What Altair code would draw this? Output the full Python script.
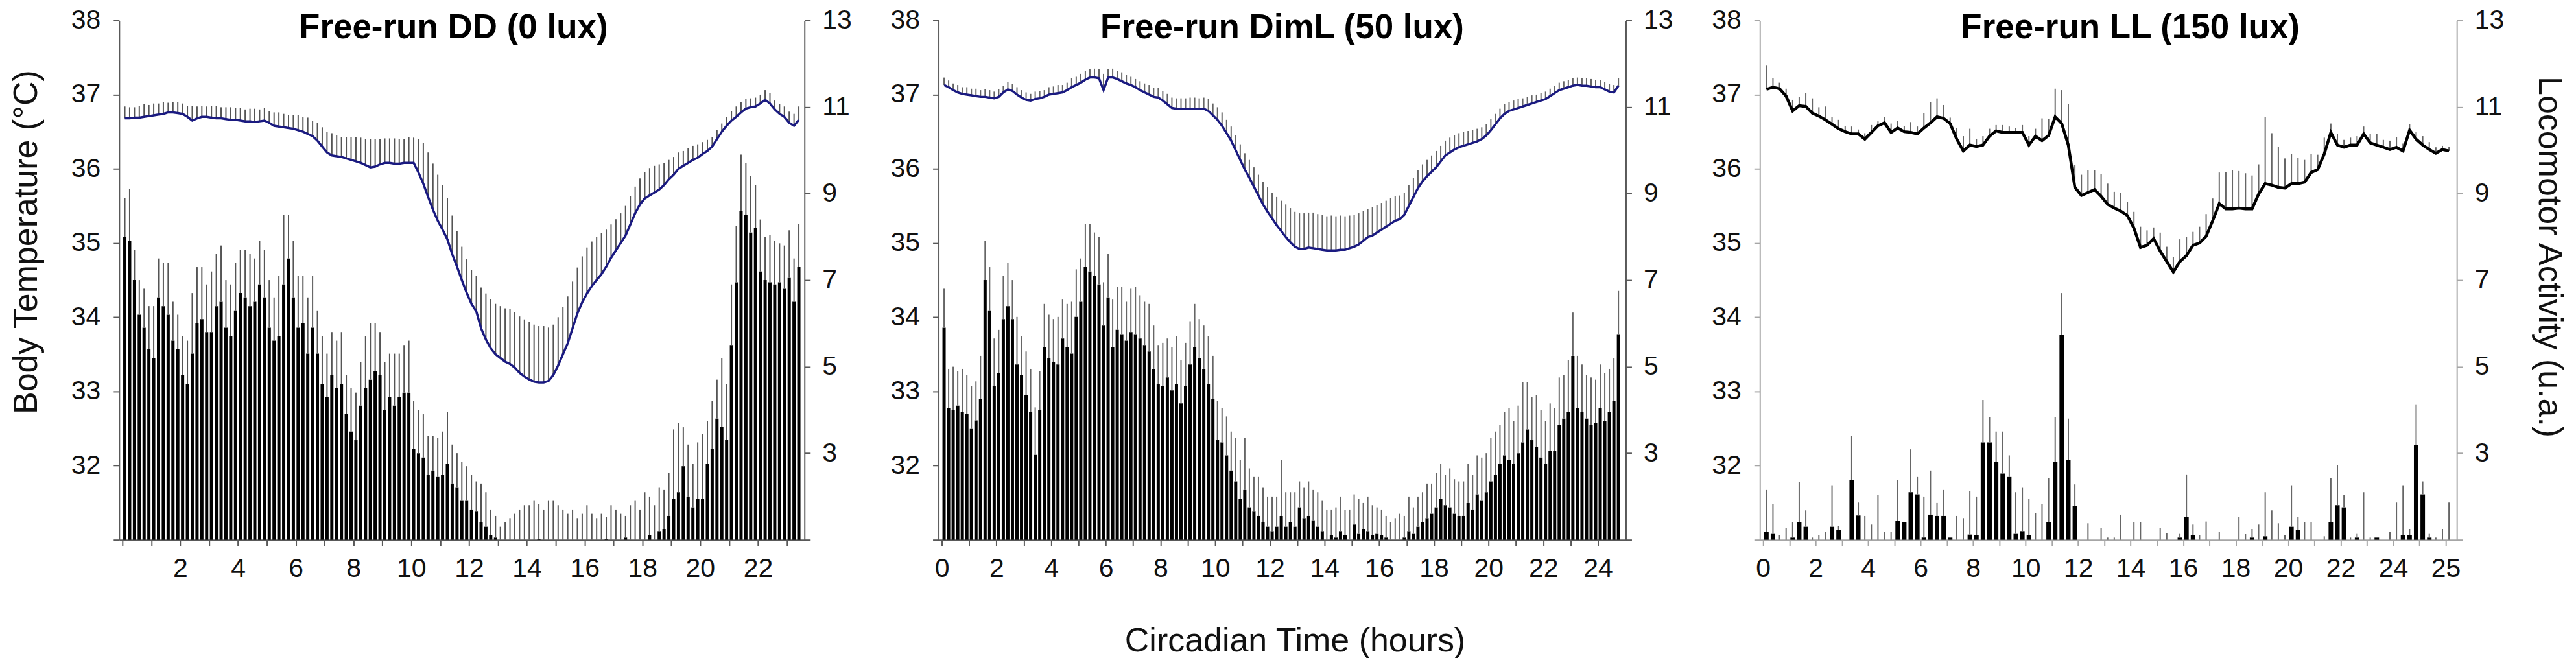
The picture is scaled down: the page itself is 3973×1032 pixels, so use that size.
import altair as alt
import pandas as pd

FONT = "Liberation Sans"

# ---------------- Free-run DD (0 lux): 10-min bins ----------------
dd_step = 1 / 6
dd_temp = [
    36.68, 36.68, 36.69, 36.69, 36.70, 36.71,
    36.72, 36.73, 36.74, 36.76, 36.76, 36.75,
    36.74, 36.70, 36.65, 36.68, 36.70, 36.70,
    36.69, 36.68, 36.68, 36.67, 36.66, 36.66,
    36.65, 36.64, 36.64, 36.63, 36.64, 36.65,
    36.62, 36.58, 36.57, 36.56, 36.55, 36.54,
    36.52, 36.50, 36.47, 36.44, 36.38, 36.30,
    36.22, 36.18, 36.17, 36.16, 36.14, 36.12,
    36.10, 36.08, 36.05, 36.02, 36.03, 36.06,
    36.08, 36.08, 36.07, 36.07, 36.08, 36.08,
    36.08, 35.95, 35.80, 35.62, 35.45, 35.30,
    35.18, 35.05, 34.85, 34.68, 34.50, 34.33,
    34.18, 34.08, 33.85, 33.70, 33.58, 33.50,
    33.45, 33.40, 33.37, 33.32, 33.25, 33.20,
    33.16, 33.13, 33.12, 33.12, 33.14, 33.22,
    33.35, 33.50, 33.65, 33.85, 34.05, 34.20,
    34.32, 34.42, 34.50, 34.58, 34.68, 34.80,
    34.90, 35.00, 35.10, 35.25, 35.40, 35.52,
    35.60, 35.64, 35.68, 35.72, 35.78, 35.86,
    35.92, 36.00, 36.04, 36.08, 36.12, 36.15,
    36.20, 36.24, 36.30, 36.40, 36.50, 36.58,
    36.65, 36.70, 36.76, 36.81, 36.83, 36.84,
    36.88, 36.93, 36.88, 36.80, 36.74, 36.70,
    36.62, 36.58, 36.66,
]
dd_temp_err = [
    0.16, 0.15, 0.14, 0.16, 0.17, 0.15,
    0.16, 0.15, 0.16, 0.13, 0.14, 0.15,
    0.14, 0.15, 0.20, 0.16, 0.15, 0.14,
    0.16, 0.17, 0.15, 0.16, 0.17, 0.16,
    0.17, 0.16, 0.17, 0.18, 0.16, 0.17,
    0.16, 0.18, 0.19, 0.18, 0.17, 0.18,
    0.20, 0.20, 0.22, 0.21, 0.24, 0.26,
    0.28, 0.30, 0.28, 0.27, 0.29, 0.31,
    0.33, 0.34, 0.35, 0.38, 0.37, 0.34,
    0.33, 0.33, 0.34, 0.33, 0.32, 0.35,
    0.34, 0.45, 0.55, 0.60, 0.62, 0.62,
    0.60, 0.56, 0.52, 0.48, 0.45, 0.45,
    0.46, 0.48, 0.55, 0.62, 0.66, 0.68,
    0.70, 0.72, 0.74, 0.75, 0.76, 0.77,
    0.78, 0.77, 0.76, 0.76, 0.72, 0.68,
    0.65, 0.64, 0.63, 0.63, 0.62, 0.62,
    0.62, 0.60, 0.58, 0.55, 0.50, 0.45,
    0.42, 0.40, 0.40, 0.38, 0.36, 0.35,
    0.36, 0.37, 0.36, 0.34, 0.30, 0.26,
    0.24, 0.22, 0.20, 0.20, 0.19, 0.18,
    0.16, 0.15, 0.13, 0.12, 0.11, 0.12,
    0.13, 0.14, 0.14, 0.13, 0.12, 0.12,
    0.12, 0.13, 0.14, 0.12, 0.13, 0.14,
    0.15, 0.16, 0.18,
]
dd_act = [
    8.0, 7.9, 7.0, 6.2, 5.9, 5.4,
    5.2, 6.6, 6.4, 6.2, 5.6, 5.4,
    4.8, 4.6, 5.3, 6.0, 6.1, 5.8,
    5.8, 6.4, 6.5, 5.9, 5.7, 6.3,
    6.7, 6.6, 6.4, 6.5, 6.9, 6.6,
    5.9, 5.6, 5.7, 6.9, 7.5, 6.6,
    5.9, 6.0, 5.3, 5.9, 5.3, 4.6,
    4.3, 4.8, 4.5, 4.6, 3.9, 3.5,
    3.3, 4.1, 4.5, 4.7, 4.9, 4.8,
    4.0, 4.3, 4.1, 4.3, 4.4, 4.4,
    3.1, 3.0, 2.9, 2.5, 2.6, 2.45,
    2.5, 2.75, 2.3, 2.2, 1.9, 1.9,
    1.7, 1.65, 1.4, 1.3, 1.1, 1.05,
    1.0, 1.0, 1.0, 1.0, 1.0, 1.0,
    1.0, 1.0, 1.02, 1.0, 1.0, 1.0,
    1.0, 1.0, 1.0, 1.0, 1.0, 1.0,
    1.0, 1.0, 1.0, 1.0, 1.02, 1.0,
    1.0, 1.0, 1.05, 1.0, 1.0, 1.0,
    1.0, 1.1, 1.0, 1.2, 1.25, 1.55,
    1.95, 2.1, 2.7, 2.0, 1.75, 1.95,
    1.95, 2.75, 3.1, 3.8, 3.6, 3.3,
    5.5, 6.95, 8.6, 8.5, 8.1, 8.2,
    7.2, 7.0, 6.95, 6.9, 6.95, 6.8,
    7.05, 6.5, 7.3,
]
dd_act_err = [
    0.9, 1.2, 0.7, 0.8, 0.9, 1.0,
    1.2, 0.9, 1.0, 1.2, 0.9, 0.8,
    0.9, 1.0, 1.4, 1.3, 1.2, 1.1,
    1.4, 1.2, 1.3, 1.1, 1.2, 1.1,
    1.0, 1.1, 1.2, 1.0, 1.0, 1.1,
    1.1, 1.0, 1.4, 1.6, 1.0, 1.3,
    1.2, 1.1, 1.3, 1.2, 1.0, 1.1,
    1.0, 1.0, 1.1, 1.2, 0.9, 1.0,
    1.1, 1.0, 1.2, 1.3, 1.1, 1.0,
    1.1, 1.0, 1.2, 1.0, 1.1, 1.2,
    1.1, 1.0, 1.0, 0.9, 0.8, 0.9,
    1.0, 1.2, 0.9, 0.8, 0.9, 0.8,
    0.8, 0.7, 0.9, 0.8, 0.6, 0.5,
    0.3, 0.4, 0.5, 0.6, 0.7, 0.8,
    0.8, 0.9, 0.8, 0.7, 0.9, 0.9,
    0.8, 0.7, 0.6, 0.7, 0.5, 0.6,
    0.8, 0.6, 0.5, 0.6, 0.5, 0.8,
    0.7, 0.6, 0.5, 0.8, 0.9, 0.7,
    1.1, 0.9, 0.8, 1.0, 0.9, 1.0,
    1.6, 1.6, 0.9, 1.2, 1.0, 1.3,
    1.5, 1.0, 1.1, 0.9, 1.6, 1.3,
    1.4, 1.3, 1.3, 1.2, 1.3, 1.0,
    1.2, 1.0, 1.1, 1.0, 0.9, 1.0,
    1.1, 1.0, 1.0,
]
dd_xdomain = [0, 23.5]
dd_xticks = list(range(0, 24))
dd_xlabels = ["", "", "2", "", "4", "", "6", "", "8", "", "10", "", "12", "",
              "14", "", "16", "", "18", "", "20", "", "22", ""]

# ---------------- Free-run DimL (50 lux): 10-min bins ----------------
diml_step = 1 / 6
diml_temp = [
    37.13, 37.10, 37.06, 37.03, 37.01, 37.00,
    36.99, 36.98, 36.97, 36.97, 36.96, 36.95,
    36.97, 37.03, 37.07, 37.05, 37.00, 36.96,
    36.93, 36.92, 36.94, 36.95, 36.97, 37.00,
    37.01, 37.02, 37.03, 37.06, 37.10, 37.13,
    37.16, 37.20, 37.23, 37.23, 37.22, 37.06,
    37.23, 37.23, 37.21, 37.18, 37.15, 37.13,
    37.10, 37.06, 37.03, 37.00, 36.97, 36.96,
    36.92, 36.87, 36.82, 36.81, 36.81, 36.81,
    36.81, 36.81, 36.81, 36.81, 36.78, 36.72,
    36.66, 36.58, 36.48, 36.38, 36.25, 36.12,
    35.99, 35.88, 35.76, 35.64, 35.52, 35.42,
    35.33, 35.24, 35.16, 35.08, 35.01, 34.95,
    34.92, 34.92, 34.94, 34.93, 34.92, 34.91,
    34.90, 34.90, 34.90, 34.91, 34.91, 34.93,
    34.95, 34.98, 35.03, 35.08, 35.10, 35.14,
    35.18, 35.22, 35.26, 35.30, 35.32, 35.38,
    35.50, 35.62, 35.74, 35.83, 35.90, 35.96,
    36.02, 36.10, 36.18, 36.22, 36.26, 36.29,
    36.31, 36.33, 36.35, 36.37, 36.40, 36.45,
    36.52, 36.60, 36.68, 36.74, 36.78, 36.80,
    36.82, 36.84, 36.86, 36.88, 36.90, 36.92,
    36.94, 36.98, 37.02, 37.06, 37.08, 37.10,
    37.12, 37.13, 37.12, 37.12, 37.11, 37.10,
    37.10, 37.07, 37.04, 37.03, 37.12,
]
diml_temp_err = [
    0.10, 0.09, 0.09, 0.10, 0.09, 0.10,
    0.09, 0.10, 0.09, 0.10, 0.10, 0.09,
    0.10, 0.09, 0.10, 0.09, 0.10, 0.10,
    0.10, 0.09, 0.10, 0.10, 0.09, 0.10,
    0.10, 0.11, 0.10, 0.10, 0.12, 0.11,
    0.12, 0.12, 0.11, 0.12, 0.12, 0.22,
    0.11, 0.12, 0.11, 0.12, 0.12, 0.11,
    0.11, 0.12, 0.12, 0.13, 0.12, 0.13,
    0.13, 0.14, 0.14, 0.14, 0.14, 0.14,
    0.15, 0.15, 0.14, 0.15, 0.16, 0.16,
    0.17, 0.18, 0.18, 0.19, 0.20, 0.21,
    0.22, 0.24, 0.26, 0.28, 0.30, 0.33,
    0.35, 0.38, 0.41, 0.44, 0.46, 0.47,
    0.48, 0.48, 0.47, 0.48, 0.47, 0.47,
    0.46, 0.47, 0.46, 0.46, 0.45, 0.44,
    0.43, 0.42, 0.40, 0.38, 0.38, 0.37,
    0.36, 0.35, 0.35, 0.33, 0.32, 0.30,
    0.28, 0.26, 0.24, 0.23, 0.22, 0.22,
    0.22, 0.21, 0.20, 0.20, 0.19, 0.19,
    0.19, 0.18, 0.17, 0.17, 0.16, 0.15,
    0.15, 0.14, 0.13, 0.13, 0.12, 0.12,
    0.12, 0.11, 0.11, 0.11, 0.10, 0.10,
    0.10, 0.10, 0.10, 0.10, 0.10, 0.10,
    0.10, 0.10, 0.10, 0.10, 0.10, 0.10,
    0.10, 0.10, 0.10, 0.10, 0.10,
]
diml_act = [
    5.9, 4.05, 4.0, 4.1, 3.95, 3.9,
    3.56, 3.76, 4.25, 7.0, 6.3, 4.55,
    4.85, 6.1, 6.4, 6.1, 5.05, 4.8,
    4.35, 3.95, 2.96, 4.0, 5.45, 5.2,
    5.1, 5.05, 5.65, 5.45, 5.3, 6.15,
    6.5, 7.3, 7.2, 7.1, 6.9, 5.95,
    6.6, 5.45, 5.85, 5.75, 5.6, 5.8,
    5.75, 5.65, 5.5, 5.35, 4.95, 4.6,
    4.55, 4.75, 4.45, 4.6, 4.15, 4.55,
    5.05, 5.45, 5.2, 4.95, 4.6, 4.25,
    3.3, 3.25, 2.95, 2.6, 2.35, 1.95,
    2.15, 1.75, 1.65, 1.55, 1.4, 1.3,
    1.2, 1.3, 1.55, 1.3, 1.4, 1.3,
    1.75, 1.5, 1.55, 1.45, 1.3, 1.2,
    1.0, 1.1, 1.05, 1.2, 1.1, 1.0,
    1.35, 1.15, 1.25, 1.2, 1.1, 1.15,
    1.1, 1.05, 1.0, 1.0, 1.0, 1.05,
    1.2, 1.15, 1.3, 1.4, 1.5, 1.6,
    1.75, 1.95, 1.8, 1.75, 1.6, 1.55,
    1.55, 1.85, 1.7, 2.05, 1.9, 2.1,
    2.35, 2.5, 2.75, 2.95, 2.85, 2.75,
    3.0, 3.25, 3.55, 3.3, 3.15, 2.9,
    2.75, 3.05, 3.05, 3.65, 3.8, 3.95,
    5.25, 4.05, 3.95, 3.8, 3.65, 3.7,
    4.05, 3.75, 3.95, 4.2, 5.75,
]
diml_act_err = [
    0.9, 0.9, 1.0, 0.8, 1.0, 0.9,
    1.0, 0.9, 1.0, 0.9, 1.0, 1.1,
    1.0, 1.0, 1.0, 0.9, 1.1, 0.9,
    1.0, 1.0, 1.1, 0.9, 1.0, 1.0,
    1.0, 1.1, 0.9, 1.0, 1.2, 1.1,
    1.0, 1.0, 1.1, 1.0, 1.1, 1.0,
    1.0, 1.1, 1.0, 1.1, 0.9, 1.0,
    1.1, 1.0, 1.0, 1.1, 1.0, 0.9,
    1.0, 0.9, 1.0, 1.1, 1.0, 1.0,
    1.0, 1.0, 0.9, 1.0, 1.1, 1.0,
    0.9, 0.8, 0.9, 0.9, 1.0, 0.9,
    1.2, 0.9, 0.8, 0.9, 0.8, 0.7,
    0.8, 0.7, 1.3, 0.8, 0.7, 0.8,
    0.6, 0.7, 0.8, 0.7, 0.8, 0.7,
    0.7, 0.6, 0.7, 0.8, 0.6, 0.7,
    0.7, 0.8, 0.6, 0.8, 0.7, 0.6,
    0.6, 0.5, 0.4, 0.5, 0.6, 0.5,
    0.8, 0.6, 0.7, 0.7, 0.8, 0.7,
    0.8, 0.8, 0.7, 0.9, 0.8, 0.8,
    0.8, 0.9, 0.8, 0.9, 1.0, 0.9,
    1.0, 1.0, 0.9, 1.0, 1.2, 1.0,
    1.1, 1.4, 1.1, 1.0, 1.2, 1.1,
    1.0, 1.1, 1.0, 1.1, 1.0, 1.2,
    1.0, 1.2, 1.1, 1.0, 1.1, 1.0,
    1.0, 1.1, 1.0, 1.0, 1.0,
]
diml_xdomain = [0, 24.9]
diml_xticks = list(range(0, 25))
diml_xlabels = ["0", "", "2", "", "4", "", "6", "", "8", "", "10", "", "12", "",
                "14", "", "16", "", "18", "", "20", "", "22", "", "24"]

# ---------------- Free-run LL (150 lux): 15-min bins ----------------
ll_step = 1 / 4
ll_temp = [
    37.07, 37.10, 37.08, 36.98,
    36.78, 36.85, 36.84, 36.75,
    36.71, 36.66, 36.60, 36.54,
    36.50, 36.47, 36.47, 36.40,
    36.49, 36.58, 36.62, 36.49,
    36.55, 36.50, 36.49, 36.47,
    36.55, 36.62, 36.70, 36.68,
    36.61, 36.40, 36.24, 36.32,
    36.30, 36.32, 36.44, 36.51,
    36.49, 36.49, 36.49, 36.49,
    36.32, 36.44, 36.38, 36.45,
    36.70, 36.61, 36.32, 35.75,
    35.64, 35.68, 35.72, 35.63,
    35.52, 35.47, 35.43, 35.37,
    35.20, 34.94, 34.97, 35.06,
    34.89, 34.75, 34.61, 34.75,
    34.83, 34.97, 35.00, 35.09,
    35.30, 35.53, 35.46, 35.46,
    35.47, 35.46, 35.46, 35.66,
    35.80, 35.78, 35.75, 35.74,
    35.80, 35.80, 35.82, 35.95,
    35.99, 36.20, 36.49, 36.32,
    36.29, 36.32, 36.32, 36.47,
    36.35, 36.32, 36.29, 36.26,
    36.29, 36.24, 36.52, 36.40,
    36.32, 36.26, 36.21, 36.26,
    36.24,
]
ll_temp_err = [
    0.32, 0.12, 0.08, 0.10,
    0.15, 0.12, 0.18, 0.20,
    0.12, 0.18, 0.10, 0.12,
    0.08, 0.10, 0.06, 0.08,
    0.10, 0.06, 0.08, 0.12,
    0.10, 0.08, 0.14, 0.10,
    0.20, 0.28, 0.25, 0.18,
    0.08, 0.15, 0.20, 0.22,
    0.10, 0.12, 0.10, 0.08,
    0.10, 0.08, 0.06, 0.10,
    0.12, 0.10, 0.30, 0.22,
    0.38, 0.45, 0.55, 0.30,
    0.28, 0.30, 0.26, 0.30,
    0.28, 0.22, 0.25, 0.18,
    0.22, 0.28, 0.20, 0.15,
    0.25, 0.20, 0.20, 0.30,
    0.25, 0.18, 0.22, 0.30,
    0.30, 0.42, 0.50, 0.52,
    0.50, 0.48, 0.45, 0.40,
    0.90, 0.70, 0.55, 0.40,
    0.40, 0.35, 0.30, 0.25,
    0.20, 0.22, 0.12, 0.15,
    0.10, 0.10, 0.12, 0.10,
    0.12, 0.15, 0.10, 0.12,
    0.14, 0.10, 0.08, 0.10,
    0.12, 0.10, 0.08, 0.05,
    0.06,
]
ll_act = [
    1.18, 1.15, 1.0, 1.0,
    1.05, 1.4, 1.3, 1.0,
    1.0, 1.0, 1.3, 1.22,
    1.0, 2.38, 1.56, 1.0,
    1.0, 1.0, 1.0, 1.0,
    1.43, 1.4, 2.1, 2.05,
    1.05, 1.58, 1.55, 1.55,
    1.05, 1.0, 1.0, 1.12,
    1.1, 3.25, 3.25, 2.8,
    2.53, 2.45, 1.15, 1.2,
    1.1, 1.0, 1.0, 1.4,
    2.8, 5.73, 2.85, 1.78,
    1.0, 1.0, 1.0, 1.0,
    1.0, 1.0, 1.0, 1.0,
    1.0, 1.0, 1.0, 1.0,
    1.0, 1.0, 1.0, 1.05,
    1.53, 1.1, 1.0, 1.0,
    1.0, 1.0, 1.0, 1.0,
    1.0, 1.0, 1.05, 1.0,
    1.08, 1.0, 1.0, 1.0,
    1.3, 1.22, 1.0, 1.0,
    1.0, 1.0, 1.41, 1.8,
    1.75, 1.0, 1.05, 1.0,
    1.0, 1.05, 1.0, 1.0,
    1.0, 1.1, 1.1, 3.19,
    2.05, 1.05, 1.0, 1.0,
    1.0,
]
ll_act_err = [
    0.97, 0.68, 0.1, 0.28,
    0.35, 0.93, 0.38, 0.05,
    0.11, 0.18, 0.96, 0.1,
    0.0, 1.02, 0.3, 0.55,
    0.35, 1.03, 0.18, 0.18,
    0.95, 0.0, 0.99, 0.4,
    0.95, 1.02, 0.3, 0.6,
    0.0, 0.55, 0.5, 1.0,
    0.9, 0.98, 0.59, 0.7,
    0.97, 0.5, 0.95, 1.0,
    0.85, 0.62, 0.82, 1.03,
    1.04, 0.97, 0.95, 0.5,
    0.0, 0.38, 0.0, 0.28,
    0.05, 0.05, 0.58, 0.0,
    0.4, 0.4, 0.0, 0.0,
    0.28, 0.16, 0.0, 0.1,
    0.98, 0.25, 0.1, 0.42,
    0.0, 0.18, 0.0, 0.0,
    0.52, 0.14, 0.2, 0.35,
    1.02, 0.68, 0.38, 0.1,
    0.96, 0.3, 0.4, 0.4,
    0.0, 0.08, 1.02, 0.93,
    0.28, 0.05, 0.1, 1.1,
    0.05, 0.02, 0.0, 0.18,
    0.86, 1.16, 0.15, 0.94,
    0.3, 0.1, 0.05, 0.25,
    0.86,
]
ll_xdomain = [0, 26.3]
ll_xticks = list(range(0, 27))
ll_xlabels = ["0", "", "2", "", "4", "", "6", "", "8", "", "10", "", "12", "",
              "14", "", "16", "", "18", "", "20", "", "22", "", "24", "", "25"]

# ---------------- shared axes ----------------
temp_domain = [31, 38]
temp_ticks = [31, 32, 33, 34, 35, 36, 37, 38]
temp_labels = ["", "32", "33", "34", "35", "36", "37", "38"]
act_domain = [1, 13]
act_ticks = [1, 3, 5, 7, 9, 11, 13]
act_labels = ["", "3", "5", "7", "9", "11", "13"]

titles = ["Free-run DD (0 lux)", "Free-run DimL (50 lux)", "Free-run LL (150 lux)"]
y_title_left = "Body Temperature (°C)"
y_title_right = "Locomotor Activity (u.a.)"
x_title = "Circadian Time (hours)"

H = 802


def label_expr(values, labels):
    parts = "".join(f"datum.value == {v} ? '{l}' : " for v, l in zip(values, labels) if l)
    return parts + "''"


def axis_style(color):
    return dict(domainColor=color, tickColor=color, domainWidth=2, tickWidth=2,
                tickSize=9, grid=False, labelFont=FONT, labelFontSize=41,
                labelColor="#111111", titleFont=FONT, titleFontSize=52,
                titleFontWeight="normal", titleColor="#111111",
                labelOverlap=False, labelFlush=False)


def panel(title, title_dx, step, temp, terr, act, aerr, xdomain, xticks, xlabels,
          width, line_color, line_width, axis_color, bar_size, whisk_color,
          left_title=False, right_title=False, bottom_title=False):
    n = min(len(temp), len(terr), len(act), len(aerr))
    df = pd.DataFrame({
        "t": [i * step + step / 2 for i in range(n)],
        "temp": temp[:n],
        "temp_top": [temp[i] + terr[i] for i in range(n)],
        "act": act[:n],
        "act_top": [act[i] + aerr[i] for i in range(n)],
    })

    xax = dict(axis_style(axis_color), values=xticks,
               labelExpr=label_expr(xticks, xlabels), labelPadding=16)
    if bottom_title:
        xax.update(title=x_title, titleX=550, titleY=156, titleAlign="center",
                   titleBaseline="middle", titleAngle=0)
    else:
        xax.update(title=None)
    x_enc = alt.X("t:Q", scale=alt.Scale(domain=xdomain, nice=False, zero=False),
                  axis=alt.Axis(**xax))

    lax = dict(axis_style(axis_color), orient="left", values=temp_ticks,
               labelExpr=label_expr(temp_ticks, temp_labels), labelPadding=20)
    if left_title:
        lax.update(title=y_title_left, titleAngle=270, titleX=-143, titleY=342,
                   titleAlign="center", titleBaseline="middle")
    else:
        lax.update(title=None)
    temp_scale = alt.Scale(domain=temp_domain, nice=False, zero=False)
    temp_axis = alt.Axis(**lax)

    rax = dict(axis_style(axis_color), orient="right", values=act_ticks,
               labelExpr=label_expr(act_ticks, act_labels), labelPadding=18)
    if right_title:
        rax.update(title=y_title_right, titleAngle=90, titleX=142, titleY=365,
                   titleAlign="center", titleBaseline="middle")
    else:
        rax.update(title=None)
    act_scale = alt.Scale(domain=act_domain, nice=False, zero=False)
    act_axis = alt.Axis(**rax)

    base = alt.Chart(df)
    bars = base.mark_bar(color="#000000", size=bar_size).encode(
        x=x_enc,
        y=alt.Y("act:Q", scale=act_scale, axis=act_axis),
        y2=alt.datum(1),
    )
    act_whisk = base.mark_rule(color=whisk_color, strokeWidth=2).encode(
        x=x_enc,
        y=alt.Y("act:Q", scale=act_scale, axis=act_axis),
        y2="act_top:Q",
    )
    temp_whisk = base.mark_rule(color=whisk_color, strokeWidth=2).encode(
        x=x_enc,
        y=alt.Y("temp:Q", scale=temp_scale, axis=temp_axis),
        y2="temp_top:Q",
    )
    temp_line = base.mark_line(color=line_color, strokeWidth=line_width).encode(
        x=x_enc,
        y=alt.Y("temp:Q", scale=temp_scale, axis=temp_axis),
    )
    head = alt.Chart(pd.DataFrame({"label": [title]})).mark_text(
        font=FONT, fontSize=53, fontWeight="bold", align="center",
        baseline="alphabetic", color="#000000",
    ).encode(x=alt.value(width / 2 + title_dx), y=alt.value(28), text="label:N")

    return alt.layer(
        alt.layer(bars, act_whisk),
        alt.layer(temp_whisk, temp_line),
        head,
    ).resolve_scale(y="independent").properties(width=width, height=H)


p1 = panel(titles[0], -13, dd_step, dd_temp, dd_temp_err, dd_act, dd_act_err,
           dd_xdomain, dd_xticks, dd_xlabels, 1058, "#1a1a80", 3.5, "#595959",
           5, "#555555", left_title=True)
p2 = panel(titles[1], 0, diml_step, diml_temp, diml_temp_err, diml_act, diml_act_err,
           diml_xdomain, diml_xticks, diml_xlabels, 1061, "#1a1a80", 3.5, "#595959",
           5, "#666666", bottom_title=True)
p3 = panel(titles[2], 34, ll_step, ll_temp, ll_temp_err, ll_act, ll_act_err,
           ll_xdomain, ll_xticks, ll_xlabels, 1076, "#000000", 4.5, "#a6a6a6",
           7, "#666666", right_title=True)

chart = alt.hconcat(p1, p2, p3, spacing=207, bounds="flush").properties(
    padding={"top": 2, "left": 7, "right": 8, "bottom": 0}
).configure_view(stroke=None)

chart.save("out.html", embed_options={"renderer": "svg", "actions": False})
